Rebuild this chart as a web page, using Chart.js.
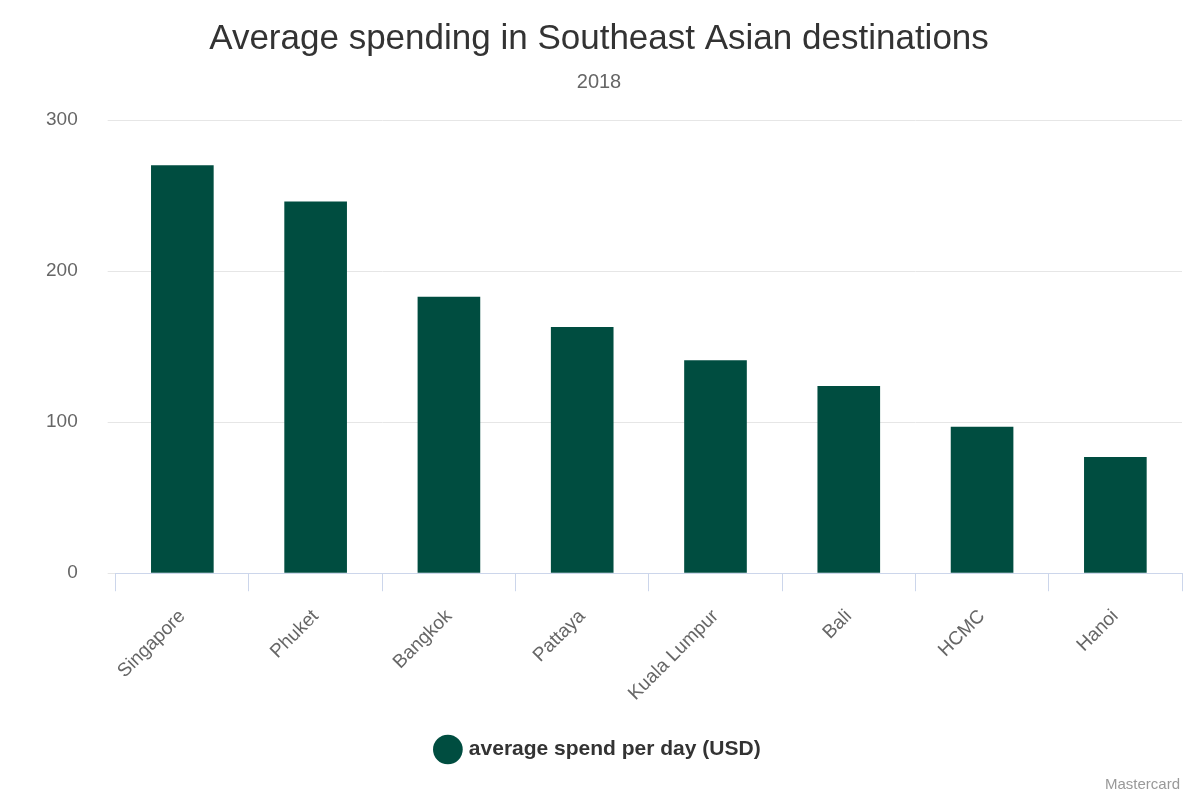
<!DOCTYPE html>
<html><head><meta charset="utf-8">
<script src="https://cdn.jsdelivr.net/npm/chart.js@4"></script>
<style>
html,body{margin:0;padding:0;background:#fff;}
#wrap{position:relative;width:1200px;height:800px;}
#credit{position:absolute;right:20px;bottom:8px;font:15px "Liberation Sans",Arial,sans-serif;color:#999;}
</style></head>
<body><div id="wrap"><canvas id="c" width="1200" height="800"></canvas><div id="credit">Mastercard</div></div>
<script>
const categories = ["Singapore","Phuket","Bangkok","Pattaya","Kuala Lumpur","Bali","HCMC","Hanoi"];
const spend = [270, 246, 183, 163, 141, 124, 97, 77];
const yTicks = [0, 100, 200, 300];
Chart.defaults.font.family = '"Liberation Sans", Arial, sans-serif';
new Chart(document.getElementById('c'), {
  type: 'bar',
  data: { labels: categories, datasets: [{ label: 'average spend per day (USD)', data: spend, backgroundColor: '#004d40', categoryPercentage: 1, barPercentage: 0.47 }] },
  options: {
    responsive: false, animation: false,
    layout: { padding: { left: 16, right: 18, top: 2, bottom: 30 } },
    plugins: {
      title: { display: true, text: 'Average spending in Southeast Asian destinations', font: { size: 35, weight: 'normal' }, color: '#333', padding: { top: 16, bottom: 10 } },
      subtitle: { display: true, text: '2018', font: { size: 20 }, color: '#666', padding: { bottom: 26 } },
      legend: { position: 'bottom', labels: { usePointStyle: true, pointStyle: 'circle', boxWidth: 22, boxHeight: 22, color: '#333', font: { size: 21, weight: 'bold' }, padding: 20 } },
      tooltip: { enabled: false }
    },
    scales: {
      x: { grid: { display: true, drawOnChartArea: false, tickLength: 18, color: '#ccd6eb' }, border: { color: '#ccd6eb' }, offset: true,
           ticks: { color: '#666', font: { size: 19 }, maxRotation: 45, minRotation: 45, padding: 14 } },
      y: { min: 0, max: 300, afterBuildTicks: a => { a.ticks = yTicks.map(v => ({ value: v })); },
           grid: { color: '#e6e6e6' }, border: { display: false },
           ticks: { color: '#666', font: { size: 19 }, padding: 30 } }
    }
  }
});
</script></body></html>
